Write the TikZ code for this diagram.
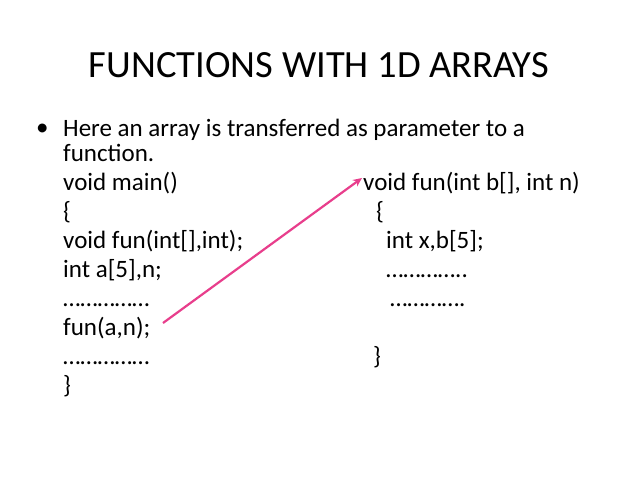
\documentclass[tikz,border=0pt]{standalone}
\usepackage{fontspec}
\usetikzlibrary{arrows.meta}
\setmainfont{Carlito}
\begin{document}
\begin{tikzpicture}[x=1pt,y=-1pt,
  body/.style={anchor=base west,inner sep=0pt,font=\fontsize{25}{30}\selectfont},
  ttl/.style={anchor=base,inner sep=0pt,font=\fontsize{38.5}{44}\selectfont}]
\useasboundingbox (0,0) rectangle (638,479);
\fill[white] (0,0) rectangle (638,479);
\node[ttl] (title) at (319,77) {FUNCTIONS WITH 1D ARRAYS};
\node[body] (bul) at (36,135) {•};
\node[body] (l1) at (63,136) {Here an array is transferred as parameter to a};
\node[body] (l2) at (63,161) {function.};
\node[body] (l3) at (63,190) {void main()};
\node[body] (l4) at (63,219) {\{};
\node[body] (l5) at (63,248) {void fun(int[],int);};
\node[body] (l6) at (63,277) {int a[5],n;};
\node[body] (l7) at (63,306) {……………};
\node[body] (l8) at (63,335) {fun(a,n);};
\node[body] (l9) at (63,364) {……………};
\node[body] (l10) at (63,393) {\}};
\node[body] (r1) at (363,190) {void fun(int b[], int n)};
\node[body] (r2) at (376,219) {\{};
\node[body] (r3) at (386,248) {int x,b[5];};
\node[body] (r4) at (386,277) {…………..};
\node[body] (r5) at (390,306) {………….};
\node[body] (r6) at (373,364) {\}};
\coordinate (s) at (163,323);
\coordinate (e) at (362,178);
\draw[line width=2.2pt,color={rgb,255:red,232;green,62;blue,140},-{Stealth[length=9pt,width=8pt]}] (s) -- (e);
\end{tikzpicture}
\end{document}
